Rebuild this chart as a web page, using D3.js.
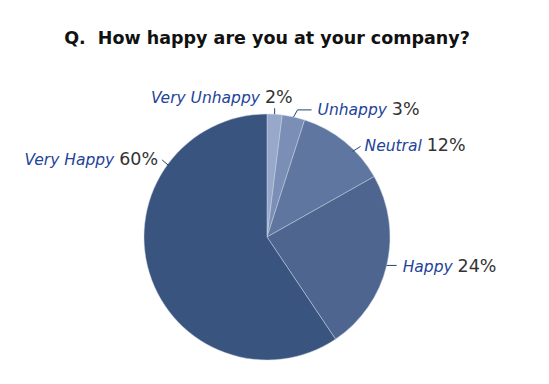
<!DOCTYPE html>
<html>
<head>
<meta charset="utf-8">
<script src="https://cdn.jsdelivr.net/npm/d3@7"></script>
<style>
  html, body { margin: 0; padding: 0; background: #fff; }
  svg { display: block; font-family: "DejaVu Sans", sans-serif; }
</style>
</head>
<body>
<div id="chart"></div>
<script>
// survey answers, clockwise from 12 o'clock
const categories = ["Very Unhappy", "Unhappy", "Neutral", "Happy", "Very Happy"];
const shares = [2, 3, 12, 24, 60];
const shareLabels = ["2%", "3%", "12%", "24%", "60%"];
const sliceColors = ["#97a9ca", "#7b8eb6", "#5f77a0", "#4e668f", "#39547f"];

const width = 549, height = 384;
const cx = 267, cy = 237, radius = 123;

// where each label sits relative to its leader line (Excel-like callouts)
// angle: degrees clockwise from north where the leader touches the pie (null = slice middle)
const labelLayout = {
  "Very Unhappy": {angle: null, path: [[0, -6]], anchor: "end", dx: 18, dy: -5},
  "Unhappy":      {angle: null, path: [[4, -7], [18, -7]], anchor: "start", dx: 6, dy: 5},
  "Neutral":      {angle: 45,   path: [[8, -5]], anchor: "start", dx: 4, dy: 5},
  "Happy":        {angle: null, path: [[10, 0]], anchor: "start", dx: 6, dy: 7},
  "Very Happy":   {angle: 306,  path: [[-7, -6]], anchor: "end", dx: -4, dy: 5}
};

const svg = d3.select("#chart").append("svg")
  .attr("width", width)
  .attr("height", height);

svg.append("text")
  .attr("x", cx)
  .attr("y", 44)
  .attr("text-anchor", "middle")
  .style("white-space", "pre")
  .style("font-weight", "bold")
  .style("font-size", "17.5px")
  .style("fill", "#111")
  .text("Q.  How happy are you at your company?");

const pie = d3.pie().sort(null).value(d => d.value);
const data = categories.map((c, i) => ({name: c, value: shares[i], label: shareLabels[i], color: sliceColors[i]}));
const arcs = pie(data);

const arc = d3.arc().innerRadius(0).outerRadius(radius);

const g = svg.append("g").attr("transform", `translate(${cx},${cy})`);

g.selectAll("path.slice")
  .data(arcs)
  .enter().append("path")
  .attr("class", "slice")
  .attr("d", arc)
  .style("fill", d => d.data.color)
  .style("stroke", "#c9d2e2")
  .style("stroke-width", 0.5);

const line = d3.line();

arcs.forEach(a => {
  const lay = labelLayout[a.data.name];
  const ang = lay.angle == null ? (a.startAngle + a.endAngle) / 2 : lay.angle * Math.PI / 180;
  const r = lay.angle == null ? radius : radius - 2;
  const p0 = [Math.sin(ang) * r, -Math.cos(ang) * r];
  const pts = [p0].concat(lay.path.map(p => [p0[0] + p[0], p0[1] + p[1]]));
  const last = pts[pts.length - 1];

  g.append("path")
    .attr("d", line(pts))
    .style("fill", "none")
    .style("stroke", "#23496e")
    .style("stroke-width", 1);

  const t = g.append("text")
    .attr("x", last[0] + lay.dx)
    .attr("y", last[1] + lay.dy)
    .attr("text-anchor", lay.anchor)
    .style("white-space", "pre");
  t.append("tspan")
    .style("font-style", "italic")
    .style("font-size", "15.5px")
    .style("fill", "#23439a")
    .text(a.data.name + " ");
  t.append("tspan")
    .style("font-size", "17.5px")
    .style("fill", "#333")
    .text(a.data.label);
});
</script>
</body>
</html>
